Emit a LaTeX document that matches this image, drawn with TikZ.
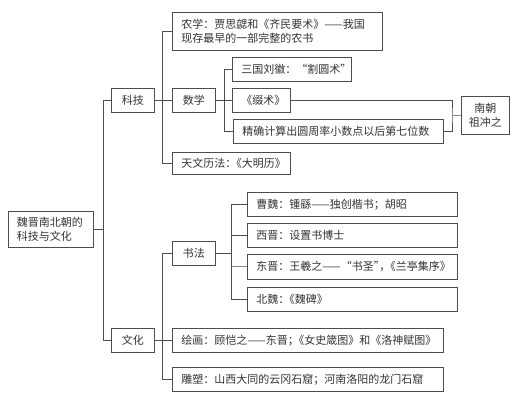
\documentclass[tikz,border=0pt]{standalone}
\usepackage{fontspec}
\setmainfont{Noto Sans CJK SC}
\usetikzlibrary{calc}
\definecolor{ln}{HTML}{4D4D4D}
\definecolor{lnl}{HTML}{8A8A8A}
\definecolor{tx}{HTML}{333333}
\begin{document}
\begin{tikzpicture}[x=1pt,y=-1pt,
  bx/.style={draw=ln, line width=0.8pt, anchor=north west, inner xsep=9pt, inner ysep=0pt,
    minimum height=24pt, align=left, text=tx, font=\fontsize{11}{14.7}\selectfont},
  cbx/.style={bx, align=center},
  conn/.style={draw=ln, line width=0.8pt},
  connl/.style={draw=lnl, line width=1pt}]
\path[fill=white] (0,0) rectangle (520,400);
\useasboundingbox (0,0) rectangle (520,400);

% nodes
\node[bx, inner xsep=8.5pt, text width=68pt, minimum height=36pt] (root) at (8,211) {魏晋南北朝的\\科技与文化};
\node[cbx, text width=25pt] (kj) at (111,88) {科技};
\node[cbx, text width=25pt] (wh) at (111,328) {文化};

\node[bx, text width=192pt, minimum height=38pt] (nx) at (172,12) {\mbox{农学：贾思勰和《齐民要术》——我国}\\现存最早的一部完整的农书};
\node[cbx, text width=25pt] (sx) at (172,88) {数学};
\node[bx, text width=100pt, minimum height=22pt] (tw) at (172,152) {\mbox{天文历法：\kern-.5em《大明历》}};

\node[bx, text width=101pt] (sg) at (232,57) {\mbox{三国刘徽：“割圆术”}};
\node[bx, text width=40pt] (zs) at (232,88) {《缀术》};
\node[bx, text width=192pt] (jq) at (233,119) {\mbox{精确计算出圆周率小数点以后第七位数}};
\node[cbx, inner xsep=5pt, text width=38pt, minimum height=38pt] (zcz) at (461,96) {南朝\\祖冲之};

\node[cbx, text width=25pt] (sf) at (172,241) {书法};
\node[bx, text width=192pt] (cw) at (247,192) {\mbox{曹魏：锺繇——独创楷书；胡昭}};
\node[bx, text width=192pt] (xj) at (247,223) {\mbox{西晋：设置书博士}};
\node[bx, text width=192pt, minimum height=25pt] (dj) at (247,254) {\mbox{东晋：王羲之——“书圣”\kern-.5em，\kern-.5em《兰亭集序》}};
\node[bx, text width=192pt] (bw) at (247,287) {\mbox{北魏：\kern-.5em《魏碑》}};

\node[bx, text width=253pt] (hh) at (172,328) {\mbox{绘画：顾恺之——东晋；\kern-.5em《女史箴图》和《洛神赋图》}};
\node[bx, text width=253pt] (ds) at (172,367) {\mbox{雕塑：山西大同的云冈石窟；河南洛阳的龙门石窟}};

% connectors
\coordinate (b1) at ($(kj.west)+(-8,0)$);
\draw[conn] (kj.west) -- (b1) |- (wh.west);
\draw[conn] (root.east) -- (root.east -| b1);

\coordinate (b2) at ($(kj.east)+(8,0)$);
\draw[conn] (nx.west) -| (b2) |- (tw.west);
\draw[conn] (kj.east) -- (sx.west);

\coordinate (b3) at ($(sx.east)+(9,0)$);
\draw[conn] (sg.west) -| (b3) |- (jq.west);
\draw[conn] (sx.east) -- (zs.west);

\coordinate (b4) at ($(zcz.west)+(-9,0)$);
\draw[conn] (zs.east) -| (b4) |- (jq.east);
\draw[connl] (b4) -- (zcz.west);

\coordinate (b5) at ($(wh.east)+(8,0)$);
\draw[conn] (sf.west) -| (b5) |- (ds.west);
\draw[conn] (wh.east) -- (hh.west);

\coordinate (b6) at ($(sf.east)+(16,0)$);
\draw[conn] (cw.west) -| (b6) |- (bw.west);
\draw[conn] (sf.east) -- (sf.east -| b6);
\draw[conn] (xj.west) -- (xj.west -| b6);
\draw[connl] (dj.west) -- (dj.west -| b6);
\end{tikzpicture}
\end{document}
